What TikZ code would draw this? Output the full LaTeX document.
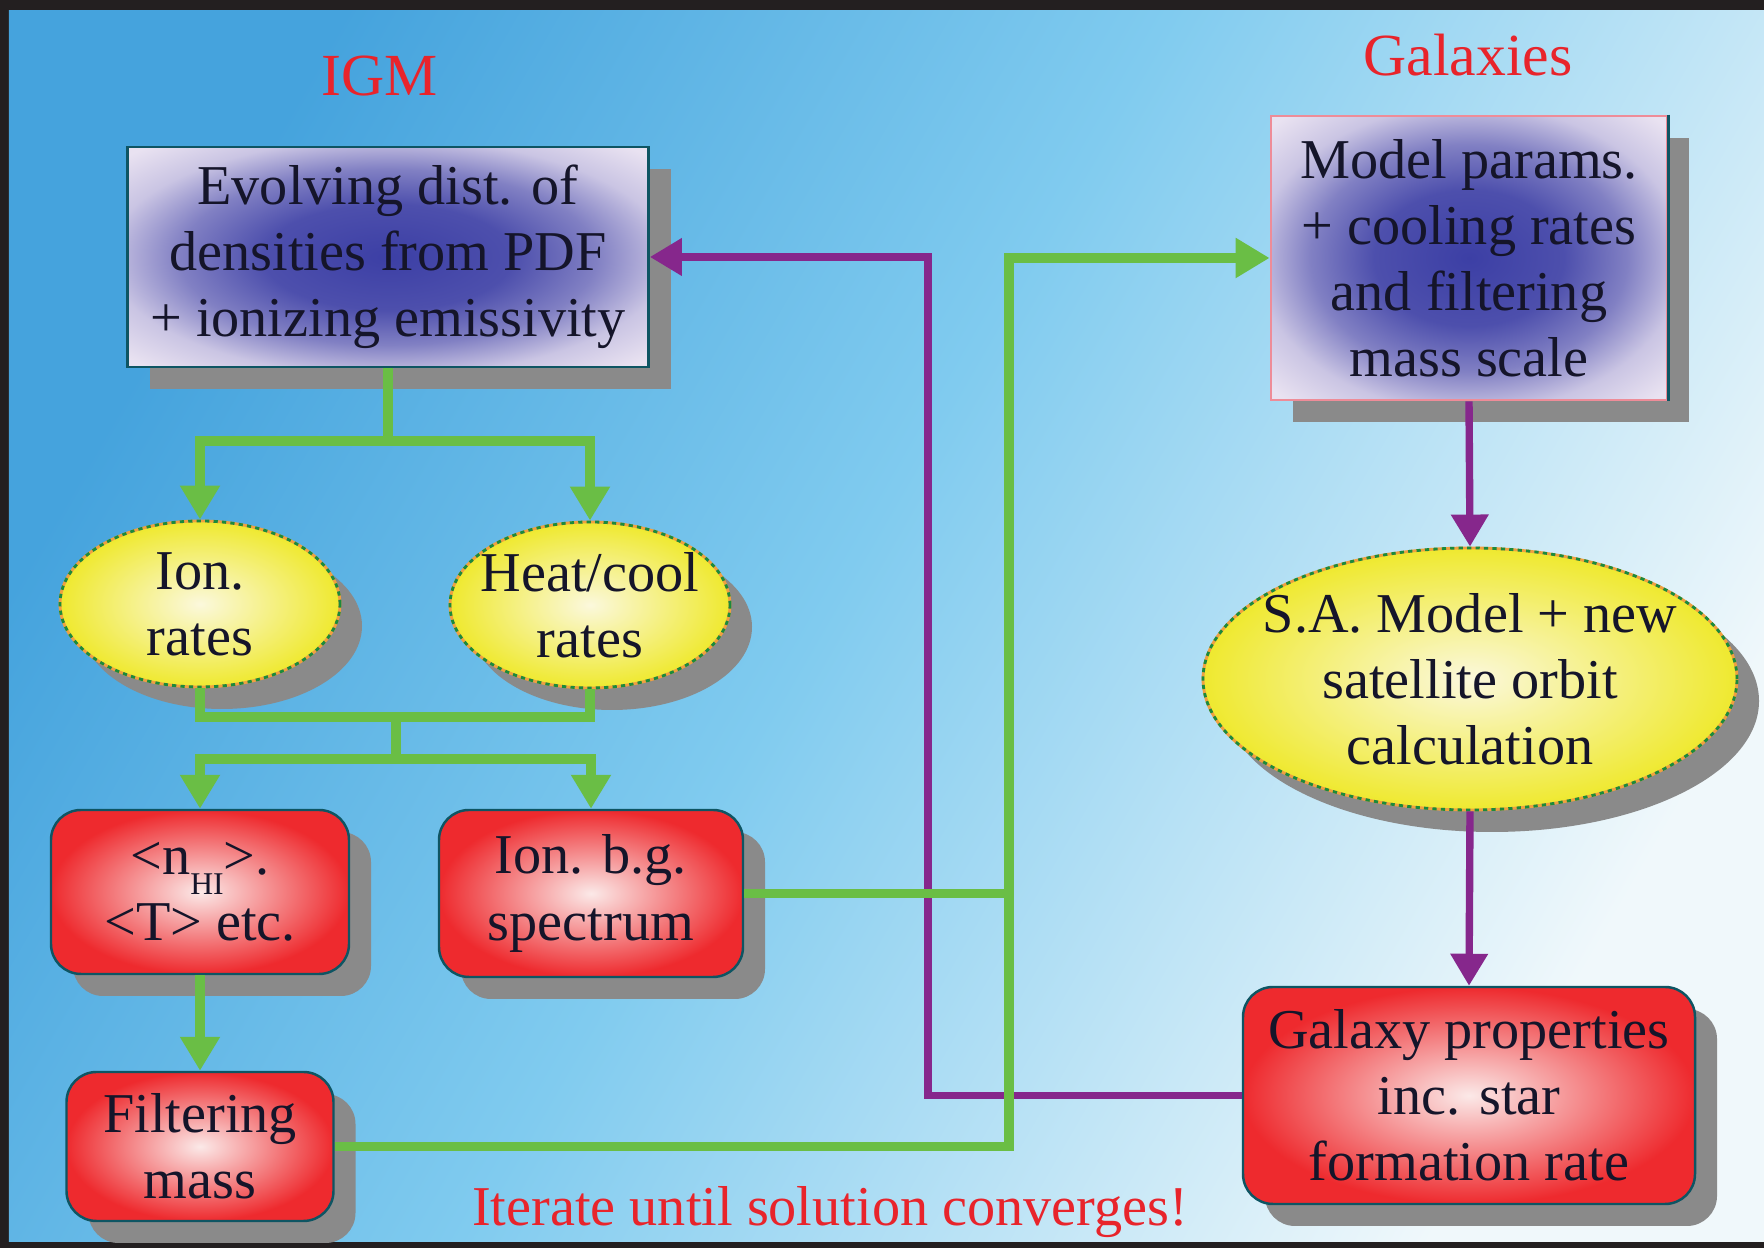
\documentclass[tikz,border=0pt]{standalone}
\usepackage{fontspec}
\setmainfont{Liberation Serif}
\usetikzlibrary{shapes.geometric, arrows.meta, positioning, shadows}
\definecolor{frameDark}{HTML}{231F20}
\definecolor{bgDeep}{HTML}{45A3DD}
\definecolor{bgMid}{HTML}{80CBEF}
\definecolor{bgPale}{HTML}{F0F8FB}
\definecolor{titleRed}{HTML}{E8242B}
\definecolor{flowGreen}{HTML}{6ABE45}
\definecolor{flowPurple}{HTML}{86278C}
\definecolor{edgeTeal}{HTML}{0E5563}
\definecolor{edgePink}{HTML}{EE8C98}
\definecolor{glowBlue}{HTML}{3C3FA5}
\definecolor{glowPale}{HTML}{E9E2F1}
\definecolor{boxRed}{HTML}{EE2A2E}
\definecolor{boxPink}{HTML}{FBE9E8}
\definecolor{ovalYellow}{HTML}{EFE92F}
\definecolor{ovalPale}{HTML}{FBF8DC}
\definecolor{ovalEdge}{HTML}{F0A040}
\definecolor{dotGreen}{HTML}{1B8A3C}
\definecolor{shadowGray}{HTML}{8A8A8A}
\definecolor{inkDark}{HTML}{15152A}

\pgfdeclarehorizontalshading{skyshade}{100bp}{color(0bp)=(bgDeep); color(25bp)=(bgDeep); color(48bp)=(bgMid); color(75bp)=(bgPale); color(100bp)=(bgPale)}
\pgfdeclareradialshading{glowshade}{\pgfpointorigin}{color(0bp)=(glowBlue); color(12bp)=(glowBlue!90!glowPale); color(20bp)=(glowBlue!60!glowPale); color(27bp)=(glowBlue!18!glowPale); color(34bp)=(glowPale); color(50bp)=(glowPale)}

\begin{document}
\begin{tikzpicture}[
  every node/.style={font=\fontsize{16}{18.8}\selectfont, text=inkDark},
  shadowed/.style={drop shadow={shadow xshift=0.22cm, shadow yshift=-0.22cm, fill=shadowGray, opacity=1}},
  glowbox/.style={rectangle, shadowed, shade, shading=glowshade, align=center, line width=0.8pt},
  redbox/.style={rectangle, rounded corners=0.3cm, shadowed, draw=edgeTeal, line width=0.7pt, inner color=boxPink, outer color=boxRed, align=center},
  oval/.style={ellipse, shadowed, draw=ovalEdge, line width=0.8pt, inner color=ovalPale, outer color=ovalYellow, align=center, inner xsep=-0.3cm, inner ysep=-0.1cm, postaction={draw=dotGreen, line width=0.8pt, dash pattern=on 1.2pt off 1.2pt}},
  title/.style={font=\fontsize{17}{20}\selectfont, text=titleRed, anchor=base},
  greenline/.style={flowGreen, line width=2.7pt},
  greenarrow/.style={greenline, -{Triangle[length=0.34cm, width=0.38cm]}},
  purpleline/.style={flowPurple, line width=2.1pt},
  purplearrow/.style={purpleline, -{Triangle[length=0.32cm, width=0.36cm]}},
]
\useasboundingbox (0,0) rectangle (17.64,12.48);

% === BACKGROUND ===
\fill[frameDark] (0,0) rectangle (17.64,12.48);
\shade[shading=skyshade, shading angle=-30] (0.09,0.06) rectangle (17.64,12.37);

% Titles
\node[title] (igm) at (3.80, 11.52) {IGM};
\node[title] (galaxies) at (14.68, 11.72) {Galaxies};
\node[title, font=\fontsize{16}{18.8}\selectfont] (iterate) at (8.30, 0.22) {Iterate until solution converges!};

% === IGM SIDE ===
\node[glowbox, draw=edgeTeal, minimum width=5.21cm, minimum height=2.2cm] (dist) at (3.88, 9.91) {Evolving dist. of\\densities from PDF\\+ ionizing emissivity};

\node[oval, minimum width=2.8cm, minimum height=1.66cm] (ion) at (2.00, 6.44) {Ion.\\rates};
\node[oval, minimum width=2.8cm, minimum height=1.66cm] (heat) at (5.90, 6.43) {Heat/cool\\rates};

\node[redbox, minimum width=2.98cm, minimum height=1.64cm] (nhi) at (2.00, 3.56) {<n\raisebox{-0.75ex}{\fontsize{9}{9}\selectfont HI}>.\\<T> etc.};
\node[redbox, minimum width=3.04cm, minimum height=1.67cm] (bg) at (5.91, 3.545) {Ion. b.g.\\spectrum};
\node[redbox, minimum width=2.67cm, minimum height=1.49cm] (filt) at (2.00, 1.015) {Filtering\\mass};

% === GALAXIES SIDE ===
\node[glowbox, draw=edgePink, minimum width=3.96cm, minimum height=2.84cm] (params) at (14.69, 9.90) {Model params.\\+ cooling rates\\and filtering\\mass scale};
\draw[edgeTeal, line width=0.8pt] (params.north east) -- (params.south east);

\node[oval, minimum width=5.34cm, minimum height=2.62cm] (sa) at (14.70, 5.69) {S.A. Model + new\\satellite orbit\\calculation};
\node[redbox, minimum width=4.52cm, minimum height=2.17cm] (props) at (14.69, 1.525) {Galaxy properties\\inc. star\\formation rate};

% Junctions
\coordinate (split1) at (3.86, 8.07);
\coordinate (merge) at (3.96, 5.31);
\coordinate (split2) at (3.96, 4.89);
\coordinate (gtop) at (10.09, 9.90);
\coordinate (ptop) at (9.28, 9.91);

% === ARROWS: Galaxies ===
\draw[purplearrow] (params.south) -- (sa.north);
\draw[purplearrow] (sa.south) -- (props.north);
\draw[purplearrow] (props.west) -| (ptop) -- (dist.east);

% === ARROWS: IGM ===
\draw[greenline] (dist.south) -- (dist.south |- split1);
\draw[greenarrow] (dist.south |- split1) -| (ion.north);
\draw[greenarrow] (dist.south |- split1) -| (heat.north);
\draw[greenline] (ion.south) |- (merge);
\draw[greenline] (heat.south) |- (merge);
\draw[greenline] (merge) -- (split2);
\draw[greenarrow] (split2) -| (nhi.north);
\draw[greenarrow] (split2) -| (bg.north);
\draw[greenarrow] (nhi.south) -- (filt.north);
\draw[greenline] (bg.east) -- (bg.east -| gtop);
\draw[greenarrow] (filt.east) -| (gtop) -- (params.west);

\end{tikzpicture}
\end{document}
